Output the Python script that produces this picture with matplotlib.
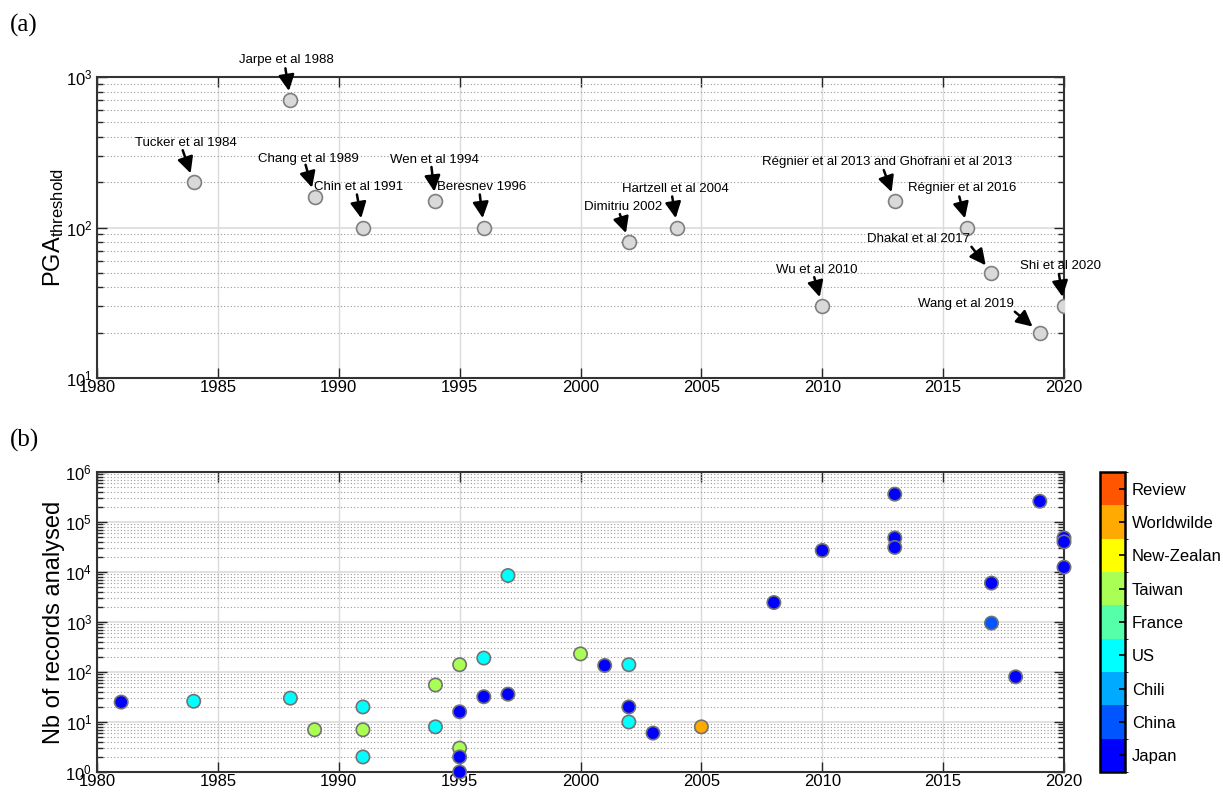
import numpy as np
import matplotlib
matplotlib.use('Agg')
import matplotlib.pyplot as plt
from matplotlib.colors import ListedColormap, BoundaryNorm
from matplotlib.ticker import LogLocator, NullFormatter

plt.rcParams['font.family'] = ['Liberation Sans', 'DejaVu Sans']
plt.rcParams['mathtext.default'] = 'regular'

# ---- panel (a): PGA threshold per study ----
pga_years = [1984, 1988, 1989, 1991, 1994, 1996, 2002, 2004, 2010, 2013, 2016, 2017, 2019, 2020]
pga_values = [200, 700, 160, 100, 150, 100, 80, 100, 30, 150, 100, 50, 20, 30]
pga_labels = ['Tucker et al 1984', 'Jarpe et al 1988', 'Chang et al 1989', 'Chin et al 1991',
              'Wen et al 1994', 'Beresnev 1996', 'Dimitriu 2002', 'Hartzell et al 2004',
              'Wu et al 2010', 'R\u00e9gnier et al 2013 and Ghofrani et al 2013',
              'R\u00e9gnier et al 2016', 'Dhakal et al 2017', 'Wang et al 2019', 'Shi et al 2020']

# ---- panel (b): number of records per study, coloured by region ----
regions = ['Japan', 'China', 'Chili', 'US', 'France', 'Taiwan', 'New-Zealan', 'Worldwilde', 'Review']
rec_years = [1981, 1984, 1988, 1989, 1991, 1991, 1991, 1994, 1994, 1995, 1995, 1995, 1995, 1995,
             1996, 1996, 1997, 1997, 2000, 2001, 2002, 2002, 2002, 2003, 2005, 2008, 2010,
             2013, 2013, 2013, 2017, 2017, 2018, 2019, 2020, 2020, 2020]
rec_counts = [25, 26, 30, 7, 20, 7, 2, 55, 8, 140, 16, 3, 2, 1,
              190, 32, 8500, 36, 230, 135, 140, 20, 10, 6, 8, 2450, 27000,
              360000, 48000, 31000, 6000, 950, 80, 260000, 48000, 40000, 12500]
rec_region = ['Japan', 'US', 'US', 'Taiwan', 'US', 'Taiwan', 'US', 'Taiwan', 'US', 'Taiwan', 'Japan', 'Taiwan', 'Japan', 'Japan',
              'US', 'Japan', 'US', 'Japan', 'Taiwan', 'Japan', 'US', 'Japan', 'US', 'Japan', 'Worldwilde', 'Japan', 'Japan',
              'Japan', 'Japan', 'Japan', 'Japan', 'China', 'Japan', 'Japan', 'Japan', 'Japan', 'Japan']

region_colors = ['#0000ff', '#0055ff', '#00aaff', '#00ffff', '#55ffaa',
                 '#aaff55', '#ffff00', '#ffaa00', '#ff5500']

# label placement (pixels, relative to each point): text centre, arrow tail
text_off = [(-8, 39), (-4, 40), (-6, 38), (-4, 40), (-1, 41), (-2, 40), (-6, 35),
            (-2, 39), (-5, 36), (-8, 39), (-5, 39), (-73, 34), (-74, 29), (-3, 40)]
tail_off = [(-11, 32), (-5, 32), (-9, 32), (-6, 33), (-4, 34), (-4, 33), (-9, 28),
            (-5, 31), (-8, 29), (-11, 31), (-8, 31), (-20, 26), (-25, 21), (-5, 32)]

fig = plt.figure(figsize=(12.23, 7.96), dpi=100)
ax1 = fig.add_axes([97/1223, 1-378/796, 967/1223, 301/796])
ax2 = fig.add_axes([97/1223, 1-772/796, 967/1223, 300/796])
cax = fig.add_axes([1100/1223, 1-772/796, 25/1223, 300/796])

def style_axes(ax, ymin, ymax):
    ax.set_yscale('log')
    ax.set_xlim(1980, 2020)
    ax.set_ylim(ymin, ymax)
    ax.set_xticks(range(1980, 2021, 5))
    ax.yaxis.set_major_locator(LogLocator(base=10, numticks=20))
    ax.yaxis.set_minor_locator(LogLocator(base=10, subs=np.arange(2, 10), numticks=20))
    ax.yaxis.set_minor_formatter(NullFormatter())
    ax.grid(True, which='major', axis='x', color='0.86', lw=1, ls='-')
    ax.grid(True, which='major', axis='y', color='0.86', lw=1.2, ls='-')
    ax.grid(True, which='minor', axis='y', color='0.6', lw=0.8, ls=(0, (1, 2)))
    ax.set_axisbelow(True)
    ax.tick_params(which='both', direction='in', top=True, right=True,
                   labelsize=12, colors='0.15', labelcolor='k')
    ax.tick_params(axis='x', pad=1.5)
    ax.tick_params(which='major', length=7, width=1)
    ax.tick_params(which='minor', length=4, width=1)
    for s in ax.spines.values():
        s.set_linewidth(1.5)
        s.set_color('0.2')

style_axes(ax1, 10, 1000)
ax1.scatter(pga_years, pga_values, s=100, c='#d9d9d9', edgecolors='0.5', linewidths=1.2, zorder=3)
for yr, val, lab, to, ta in zip(pga_years, pga_values, pga_labels, text_off, tail_off):
    ax1.annotate(lab, xy=(yr, val), xytext=to, textcoords='offset pixels',
                 ha='center', va='center', fontsize=9.5, zorder=5, annotation_clip=False)
    ax1.annotate('', xy=(yr, val), xytext=ta, textcoords='offset pixels', annotation_clip=False,
                 arrowprops=dict(arrowstyle='-|>,head_length=0.6,head_width=0.3', color='k',
                                 lw=1.8, mutation_scale=16, shrinkA=0, shrinkB=6.8), zorder=5)
ax1.set_ylabel('PGA$_{threshold}$', fontsize=17, labelpad=0)

style_axes(ax2, 1, 1e6)
cmap = ListedColormap(region_colors)
norm = BoundaryNorm(np.arange(-0.5, len(regions) + 0.5, 1), cmap.N)
codes = [regions.index(r) for r in rec_region]
sc = ax2.scatter(rec_years, rec_counts, s=92, c=codes, cmap=cmap, norm=norm,
                 edgecolors='0.45', linewidths=1.2, zorder=3, clip_on=False)
ax2.set_ylabel('Nb of records analysed', fontsize=17, labelpad=0)

cb = fig.colorbar(sc, cax=cax, ticks=range(len(regions)))
cb.ax.set_yticklabels(regions)
cb.ax.tick_params(direction='in', length=4, width=1.2, labelsize=12, pad=5, colors='k')
cb.outline.set_linewidth(1.8)

fig.text(10/1223, 1-25/796, '(a)', fontsize=18, family='Liberation Serif', va='center')
fig.text(10/1223, 1-440/796, '(b)', fontsize=18, family='Liberation Serif', va='center')

fig.savefig('out.png', dpi=100)
